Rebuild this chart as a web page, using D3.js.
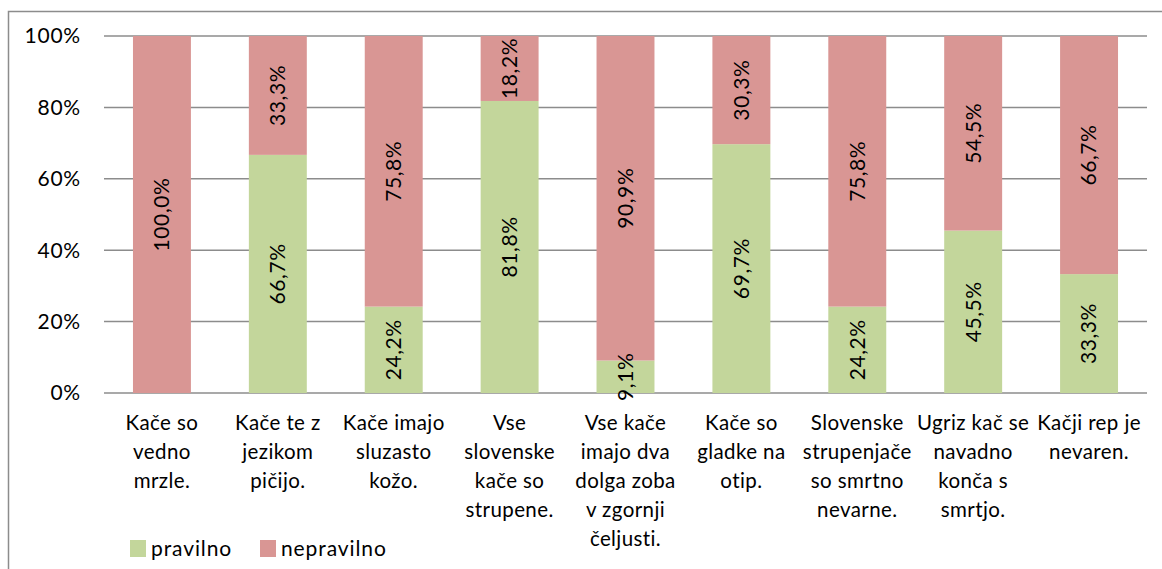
<!DOCTYPE html>
<html>
<head>
<meta charset="utf-8">
<title>Kače</title>
<script src="https://cdn.jsdelivr.net/npm/d3@7"></script>
<style>
    body { margin: 0; background: #fff; }
    text { font-family: Lato, "Open Sans", sans-serif; fill: #000; }
</style>
</head>
<body>
<script>
    // trditve (kategorije), vsaka vrstica je ena vrstica napisa
    var categories = [
        ["Kače so", "vedno", "mrzle."],
        ["Kače te z", "jezikom", "pičijo."],
        ["Kače imajo", "sluzasto", "kožo."],
        ["Vse", "slovenske", "kače so", "strupene."],
        ["Vse kače", "imajo dva", "dolga zoba", "v zgornji", "čeljusti."],
        ["Kače so", "gladke na", "otip."],
        ["Slovenske", "strupenjače", "so smrtno", "nevarne."],
        ["Ugriz kač se", "navadno", "konča s", "smrtjo."],
        ["Kačji rep je", "nevaren."]
    ];
    var pravilno = [0, 66.7, 24.2, 81.8, 9.1, 69.7, 24.2, 45.5, 33.3];
    var nepravilno = [100, 33.3, 75.8, 18.2, 90.9, 30.3, 75.8, 54.5, 66.7];
    var seriesNames = ["pravilno", "nepravilno"];
    var colors = ["#c3d69b", "#d99694"];
    var yTicks = [0, 20, 40, 60, 80, 100];

    var width = 1162, height = 569;
    var mLeft = 104, mRight = 1147, mTop = 36, mBottom = 393;

    var svg = d3.select("body").append("svg")
        .attr("width", width)
        .attr("height", height);

    // okvir
    svg.append("rect")
        .attr("x", 8.5).attr("y", 11.5)
        .attr("width", 1200).attr("height", 600)
        .attr("fill", "none")
        .attr("stroke", "#8c8c8c")
        .attr("stroke-width", 1.5);

    var x = d3.scaleBand()
        .domain(d3.range(categories.length))
        .range([mLeft, mRight])
        .paddingInner(0.5)
        .paddingOuter(0.25);

    var y = d3.scaleLinear().domain([0, 100]).range([mBottom, mTop]);

    // mreža
    svg.selectAll(".grid")
        .data(yTicks)
        .enter()
        .append("line")
        .attr("x1", mLeft).attr("x2", mRight)
        .attr("y1", function (d) { return y(d); })
        .attr("y2", function (d) { return y(d); })
        .attr("stroke", "#8c8c8c")
        .attr("stroke-width", 1.5);

    svg.selectAll(".ytick")
        .data(yTicks)
        .enter()
        .append("text")
        .attr("x", 81)
        .attr("y", function (d) { return y(d); })
        .attr("dy", "0.35em")
        .attr("text-anchor", "end")
        .style("font-size", "21px")
        .style("letter-spacing", "0.8px")
        .text(function (d) { return d + "%"; });

    var rows = pravilno.map(function (p, i) {
        return { pravilno: p, nepravilno: nepravilno[i] };
    });
    var stack = d3.stack().keys(seriesNames)(rows);

    var fmt = function (v) { return v.toFixed(1).replace(".", ",") + "%"; };

    stack.forEach(function (layer, k) {
        var g = svg.append("g");
        g.selectAll("rect")
            .data(layer)
            .enter()
            .append("rect")
            .attr("x", function (d, i) { return x(i); })
            .attr("width", x.bandwidth())
            .attr("y", function (d) { return y(d[1]); })
            .attr("height", function (d) { return y(d[0]) - y(d[1]); })
            .attr("fill", colors[k]);
    });

    // oznake vrednosti (zasukane)
    stack.forEach(function (layer, k) {
        svg.append("g").selectAll("text")
            .data(layer.filter(function (d) { return d[1] - d[0] > 0; }))
            .enter()
            .append("text")
            .attr("transform", function (d) {
                var i = rows.indexOf(d.data);
                var cx = x(i) + x.bandwidth() / 2;
                var cy = (y(d[0]) + y(d[1])) / 2;
                return "translate(" + cx + "," + cy + ") rotate(-90)";
            })
            .attr("text-anchor", "middle")
            .attr("dy", "0.35em")
            .style("font-size", "21px")
            .style("letter-spacing", "0.6px")
            .text(function (d) { return fmt(d[1] - d[0]); });
    });

    // napisi kategorij
    categories.forEach(function (lines, i) {
        var t = svg.append("text")
            .attr("text-anchor", "middle")
            .style("font-size", "20.5px")
            .style("letter-spacing", "0.4px");
        lines.forEach(function (l, j) {
            t.append("tspan")
                .attr("x", x(i) + x.bandwidth() / 2)
                .attr("y", 430 + j * 29)
                .text(l);
        });
    });

    // legenda
    var legendX = [130, 260];
    seriesNames.forEach(function (name, k) {
        svg.append("rect")
            .attr("x", legendX[k]).attr("y", 540)
            .attr("width", 16).attr("height", 17)
            .attr("fill", colors[k]);
        svg.append("text")
            .attr("x", legendX[k] + 21)
            .attr("y", 556)
            .style("font-size", "21px")
            .style("letter-spacing", "0.9px")
            .text(name);
    });
</script>
</body>
</html>
